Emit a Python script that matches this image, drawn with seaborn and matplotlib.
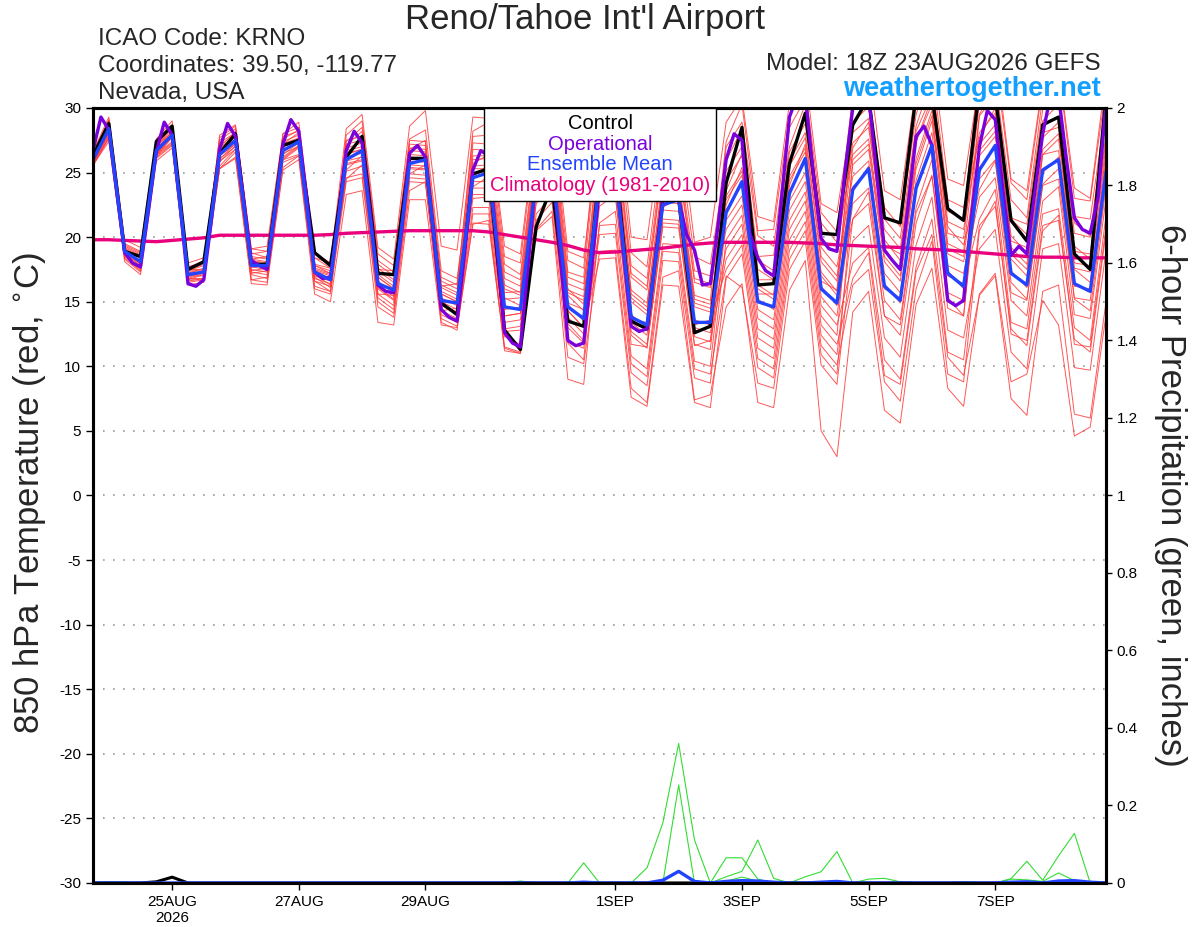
"""GEFS 16-day meteogram for Reno/Tahoe (KRNO): 850 hPa temperature spaghetti + 6-h precip."""
import matplotlib
matplotlib.use("Agg")
import numpy as np
import pandas as pd
import matplotlib.pyplot as plt
from matplotlib.lines import Line2D
import seaborn as sns

RUN_START = "2026-08-23 18:00"
HOURS_6H = list(range(0, 385, 6))
HOURS_3H = list(range(0, 385, 3))

# ---- 850 hPa temperature (degC) -------------------------------------------------
ENS_MEAN_T = [
    26.0, 28.4, 18.9, 18.1, 26.7, 27.9, 17.1, 17.3, 26.4, 27.5, 17.8, 17.8, 26.7, 27.4, 17.3, 16.7,
    26.0, 26.7, 16.4, 15.9, 25.7, 26.0, 15.1, 14.9, 24.6, 25.0, 14.6, 14.4, 24.5, 25.5, 14.6, 13.7,
    24.5, 25.0, 13.8, 13.2, 22.5, 22.9, 13.4, 13.4, 21.9, 24.3, 15.0, 14.6, 23.4, 26.1, 16.0, 14.9,
    23.7, 25.3, 16.2, 15.1, 23.8, 27.1, 17.2, 16.2, 25.2, 27.1, 17.2, 16.3, 25.2, 26.0, 16.4, 15.8,
    25.1,
]
CONTROL_T = [
    26.3, 28.8, 18.9, 18.5, 27.4, 28.6, 17.5, 18.1, 26.5, 28.0, 17.9, 17.9, 27.1, 27.5, 18.8, 17.8,
    26.2, 27.8, 17.2, 17.1, 26.1, 26.1, 14.9, 14.0, 24.9, 25.3, 12.8, 11.3, 20.8, 24.0, 13.5, 13.1,
    25.0, 26.0, 13.5, 12.9, 22.9, 23.0, 12.6, 13.1, 24.2, 28.5, 16.3, 16.4, 25.7, 29.6, 20.3, 20.2,
    28.7, 30.8, 21.5, 21.1, 31.0, 31.0, 22.2, 21.3, 31.5, 31.0, 21.3, 19.7, 28.7, 29.3, 18.7, 17.5,
    31.0,
]
# operational run is 3-hourly
OPER_T = [
    26.7, 29.3, 28.3, 23.5, 18.8, 18.0, 17.7, 22.0, 26.6, 28.9, 27.9, 22.5, 16.4, 16.2, 16.7, 21.5,
    26.8, 28.8, 27.8, 23.0, 18.2, 17.8, 17.5, 22.0, 27.2, 29.1, 28.2, 23.0, 17.3, 16.8, 16.9, 21.5,
    26.7, 28.2, 27.3, 22.0, 16.3, 15.8, 15.7, 20.5, 26.5, 27.1, 26.2, 20.5, 14.4, 13.8, 13.5, 19.0,
    25.2, 26.7, 26.3, 19.5, 12.6, 11.8, 11.5, 18.0, 25.0, 26.5, 26.0, 19.0, 12.0, 11.6, 11.8, 17.5,
    24.0, 26.5, 26.0, 19.0, 13.1, 12.7, 12.9, 18.0, 22.9, 23.2, 22.9, 20.2, 19.0, 16.3, 16.4, 21.0,
    26.0, 28.0, 27.5, 20.3, 18.4, 17.4, 17.0, 23.0, 29.3, 31.0, 31.0, 25.0, 19.9, 19.1, 18.9, 25.0,
    30.0, 31.5, 31.0, 25.0, 19.0, 18.2, 17.5, 22.5, 27.8, 28.6, 27.1, 21.0, 15.1, 14.7, 15.1, 21.5,
    27.0, 29.8, 29.1, 23.5, 18.6, 19.3, 18.7, 23.5, 28.0, 31.0, 31.0, 26.0, 21.5, 20.6, 20.3, 23.1,
    30.5,
]
CLIMO_T = [
    19.8, 19.8, 19.75, 19.7, 19.65, 19.75, 19.85, 19.95, 20.15, 20.15, 20.15, 20.15, 20.15, 20.15,
    20.15, 20.2, 20.3, 20.35, 20.4, 20.45, 20.5, 20.5, 20.5, 20.5, 20.5, 20.4, 20.2, 20.0, 19.8,
    19.6, 19.35, 19.0, 18.8, 18.85, 18.95, 19.05, 19.15, 19.3, 19.45, 19.55, 19.6, 19.6, 19.6, 19.6,
    19.6, 19.55, 19.5, 19.4, 19.35, 19.3, 19.25, 19.2, 19.1, 19.05, 19.0, 18.9, 18.8, 18.7, 18.6,
    18.5, 18.45, 18.45, 18.4, 18.4, 18.4,
]
MEMBERS_T = [
    [26.2, 28.8, 19.1, 18.5, 27.1, 28.1, 17.5, 17.5, 27.3, 28.1, 18.8, 18.4, 27.6, 28.3, 17.9, 17.6,
     27.4, 28.5, 18.2, 17.3, 27.5, 27.4, 16.9, 16.3, 27.8, 27.9, 17.9, 17.1, 27.2, 28.8, 17.3, 16.9,
     29.1, 30.2, 18.8, 17.7, 27.6, 27.4, 18.5, 17.9, 25.9, 28.4, 18.5, 18.6, 27.0, 30.3, 19.5, 18.9,
     27.3, 28.5, 19.8, 18.2, 27.4, 30.8, 20.3, 19.9, 30.4, 32.2, 22.9, 21.5, 30.9, 31.1, 21.6, 21.4, 30.2],
    [25.8, 28.0, 18.7, 17.7, 26.3, 27.7, 16.7, 17.1, 25.5, 26.8, 17.1, 16.8, 26.0, 26.4, 16.6, 15.8,
     24.3, 24.6, 14.6, 13.8, 23.6, 24.3, 13.4, 12.8, 21.1, 21.0, 11.5, 11.1, 20.6, 22.0, 10.7, 10.2,
     18.9, 19.0, 8.3, 7.2, 16.9, 17.4, 7.4, 7.8, 14.6, 16.4, 7.2, 6.8, 15.9, 18.2, 5.0, 3.0,
     14.2, 15.8, 6.6, 5.6, 14.8, 17.6, 8.3, 6.9, 15.6, 17.2, 8.8, 9.4, 15.1, 13.2, 4.6, 5.3, 14.0],
    [26.6, 29.0, 19.5, 18.9, 27.3, 28.7, 17.7, 18.1, 27.5, 28.4, 18.7, 18.9, 27.8, 28.2, 18.4, 17.6,
     26.9, 27.3, 17.4, 16.5, 26.7, 26.6, 16.1, 15.5, 24.8, 25.2, 14.4, 14.6, 24.3, 25.7, 14.8, 13.5,
     23.1, 23.2, 12.4, 11.4, 21.1, 21.0, 11.6, 12.0, 18.3, 20.2, 11.4, 10.6, 19.8, 22.0, 12.4, 10.9,
     21.4, 23.5, 13.9, 13.2, 21.9, 24.7, 15.3, 13.9, 26.3, 27.8, 18.3, 17.0, 26.4, 26.7, 17.5, 16.5, 26.2],
    [25.5, 27.7, 18.4, 17.4, 26.2, 27.2, 16.6, 16.8, 25.8, 27.1, 17.2, 17.4, 26.1, 27.0, 16.9, 16.1,
     26.4, 26.8, 16.9, 16.0, 26.2, 26.1, 15.6, 15.0, 26.8, 26.7, 16.8, 16.2, 26.3, 27.8, 16.4, 15.9,
     27.5, 28.5, 17.2, 16.2, 25.9, 25.8, 16.8, 16.4, 27.4, 30.3, 20.5, 20.6, 29.4, 31.5, 21.9, 20.4,
     31.0, 33.2, 23.6, 22.9, 31.7, 34.4, 24.5, 24.0, 32.2, 33.6, 24.2, 22.9, 31.8, 33.0, 23.0, 22.8, 31.6],
    [26.1, 28.3, 18.8, 18.2, 26.6, 28.0, 17.2, 17.2, 26.6, 27.9, 18.2, 18.0, 27.1, 27.6, 17.5, 17.1,
     27.2, 27.5, 17.6, 16.7, 26.9, 26.8, 16.3, 15.7, 25.5, 25.6, 15.2, 15.3, 25.1, 26.4, 15.5, 14.3,
     24.7, 24.8, 14.0, 13.0, 22.7, 22.6, 13.6, 13.2, 23.6, 26.5, 16.7, 16.7, 25.5, 27.7, 18.1, 16.6,
     28.1, 29.2, 20.6, 19.1, 28.2, 31.0, 21.2, 20.6, 28.1, 29.6, 20.1, 18.8, 27.7, 28.9, 18.9, 18.7, 28.0],
    [26.4, 29.0, 19.3, 18.7, 27.1, 28.5, 17.5, 17.9, 26.3, 27.2, 17.7, 17.5, 26.4, 27.3, 17.0, 16.6,
     24.5, 25.6, 15.3, 14.4, 24.6, 24.5, 14.0, 13.4, 22.3, 22.3, 12.3, 11.7, 21.8, 23.2, 11.9, 11.4,
     22.4, 23.3, 11.7, 11.5, 20.8, 20.7, 11.7, 11.3, 22.1, 24.0, 15.2, 14.4, 23.6, 25.8, 16.2, 14.7,
     25.6, 26.8, 18.1, 16.6, 25.3, 29.0, 18.7, 18.1, 23.7, 25.9, 15.7, 15.1, 24.0, 24.5, 15.2, 14.3, 23.9],
    [25.6, 27.4, 18.1, 17.1, 25.9, 26.9, 16.3, 16.5, 25.3, 26.2, 16.7, 16.5, 25.4, 26.3, 16.0, 15.6,
     25.1, 25.5, 15.6, 14.7, 24.9, 24.8, 14.3, 13.7, 24.3, 24.3, 13.9, 14.1, 23.8, 25.2, 14.3, 13.0,
     25.3, 26.2, 15.0, 14.0, 23.7, 23.6, 14.6, 14.2, 25.1, 27.0, 18.2, 17.4, 26.6, 28.8, 19.2, 17.7,
     24.7, 25.9, 17.2, 15.7, 24.4, 28.1, 17.8, 17.2, 23.1, 24.6, 15.1, 13.9, 22.8, 23.9, 14.0, 13.7, 23.0],
    [26.3, 28.5, 19.0, 18.4, 26.8, 28.2, 17.4, 17.4, 27.9, 28.7, 19.1, 19.3, 28.0, 28.9, 18.8, 18.0,
     28.4, 29.5, 19.2, 18.3, 28.6, 29.8, 19.3, 19.0, 29.3, 29.2, 19.3, 18.7, 28.8, 30.3, 18.9, 18.4,
     28.5, 28.6, 17.8, 16.8, 26.5, 26.4, 17.4, 17.0, 24.4, 26.3, 17.5, 16.7, 25.9, 28.1, 18.5, 17.0,
     23.9, 25.1, 16.4, 14.9, 23.6, 27.3, 17.0, 16.4, 21.4, 23.7, 13.4, 12.9, 21.8, 22.2, 13.0, 12.0, 21.7],
    [25.9, 28.1, 18.8, 17.8, 26.4, 27.8, 16.8, 17.2, 26.5, 27.4, 17.9, 17.7, 26.8, 27.3, 17.2, 16.8,
     25.7, 26.0, 16.1, 15.2, 25.4, 25.3, 14.8, 14.2, 23.0, 23.1, 12.7, 12.8, 22.6, 23.9, 13.0, 11.8,
     20.9, 21.0, 10.2, 9.2, 18.9, 18.8, 9.8, 9.4, 17.0, 16.1, 8.7, 8.3, 17.5, 19.7, 10.1, 8.6,
     19.7, 20.9, 12.2, 10.7, 19.4, 23.1, 12.8, 12.2, 19.1, 20.6, 11.1, 9.8, 19.1, 19.5, 9.9, 9.7, 19.0],
    [26.6, 29.3, 19.8, 19.2, 27.6, 29.0, 18.0, 18.4, 27.1, 28.0, 18.5, 18.3, 27.4, 27.9, 17.8, 17.4,
     26.2, 26.5, 16.6, 15.7, 25.9, 25.8, 15.3, 14.7, 26.0, 26.1, 15.7, 15.8, 25.6, 26.9, 16.0, 14.8,
     27.6, 27.7, 16.9, 15.9, 25.6, 25.5, 16.5, 16.1, 22.9, 24.8, 16.0, 15.2, 24.4, 26.6, 17.0, 15.5,
     21.4, 22.6, 13.9, 12.4, 21.1, 24.8, 14.5, 13.9, 25.4, 26.9, 17.4, 16.1, 25.0, 26.2, 16.2, 16.0, 25.3],
    [25.6, 27.8, 18.5, 17.5, 26.3, 27.3, 16.7, 16.7, 25.3, 26.1, 16.4, 16.3, 25.2, 26.0, 15.6, 15.0,
     23.3, 23.6, 13.4, 13.2, 22.9, 22.9, 13.2, 13.0, 21.8, 21.8, 11.4, 11.0, 21.3, 22.7, 11.8, 10.5,
     23.0, 23.9, 12.7, 11.7, 21.4, 21.3, 12.3, 11.9, 23.2, 25.1, 16.3, 15.5, 24.7, 26.9, 17.3, 15.8,
     28.9, 30.1, 21.4, 19.9, 28.6, 32.3, 22.0, 21.4, 33.0, 34.5, 24.5, 23.6, 32.0, 33.2, 23.8, 23.0, 32.5],
    [26.0, 28.6, 19.1, 18.1, 26.9, 27.9, 17.3, 17.3, 26.1, 27.0, 17.5, 17.3, 26.2, 27.1, 16.8, 16.4,
     26.7, 27.0, 17.1, 16.2, 26.4, 26.3, 15.8, 15.2, 27.3, 27.2, 17.3, 16.7, 26.8, 28.3, 16.9, 16.4,
     25.6, 26.5, 15.3, 14.3, 24.0, 23.9, 14.9, 14.5, 20.6, 22.5, 13.7, 12.9, 22.1, 24.3, 14.7, 13.2,
     18.0, 19.2, 10.5, 9.0, 17.7, 21.4, 11.1, 10.5, 20.9, 22.4, 12.9, 11.6, 20.5, 21.7, 11.7, 11.5, 20.8],
    [25.9, 28.2, 18.9, 17.9, 26.5, 27.9, 16.9, 17.3, 26.9, 28.2, 18.3, 18.5, 27.2, 28.1, 17.8, 17.2,
     27.9, 29.0, 18.7, 17.8, 27.6, 28.3, 17.4, 16.8, 25.7, 26.4, 16.0, 15.5, 25.9, 26.6, 15.7, 15.1,
     24.1, 24.2, 13.4, 12.4, 22.1, 22.0, 13.0, 12.6, 19.1, 21.0, 12.2, 11.4, 20.6, 22.8, 13.2, 11.7,
     16.8, 18.8, 9.3, 8.6, 17.3, 20.2, 10.7, 9.3, 15.5, 17.0, 7.5, 6.2, 15.8, 16.3, 6.3, 6.0, 15.0],
    [26.3, 29.1, 19.4, 18.8, 27.2, 28.6, 17.6, 18.0, 26.7, 27.6, 18.1, 17.9, 27.0, 27.5, 17.4, 17.0,
     25.6, 25.9, 16.0, 15.1, 25.3, 25.2, 14.7, 14.1, 23.8, 23.8, 13.4, 13.6, 23.3, 24.7, 13.8, 12.5,
     26.2, 27.1, 15.9, 14.9, 24.6, 24.5, 15.5, 15.1, 27.0, 28.9, 20.1, 19.3, 28.5, 30.7, 21.1, 19.6,
     26.4, 27.6, 18.9, 17.4, 26.1, 29.8, 19.5, 18.9, 29.4, 30.9, 21.4, 20.2, 29.0, 30.3, 20.3, 20.0, 29.3],
    [25.7, 27.6, 18.3, 17.3, 26.1, 27.1, 16.5, 16.7, 26.0, 27.3, 17.4, 17.6, 26.5, 27.0, 17.1, 16.3,
     27.5, 27.8, 17.9, 17.0, 27.2, 27.1, 16.6, 16.0, 28.2, 28.9, 18.5, 18.0, 28.4, 29.1, 18.2, 17.6,
     30.7, 31.6, 20.0, 19.8, 28.7, 29.5, 19.6, 20.0, 28.9, 30.8, 21.6, 21.2, 30.4, 32.6, 22.6, 21.9,
     29.8, 31.0, 22.3, 20.8, 29.5, 33.2, 22.9, 22.3, 27.7, 30.0, 19.7, 19.2, 28.1, 28.5, 19.3, 18.3, 27.6],
    [26.2, 28.9, 19.2, 18.6, 27.0, 28.4, 17.4, 17.8, 27.7, 28.6, 19.1, 18.9, 28.0, 28.5, 18.4, 18.0,
     26.5, 26.8, 16.9, 16.0, 26.2, 26.1, 15.6, 15.0, 23.3, 23.3, 12.9, 13.1, 22.8, 24.2, 13.3, 12.0,
     20.2, 20.3, 9.5, 8.5, 18.2, 18.1, 9.1, 8.7, 19.8, 21.7, 12.9, 12.1, 21.3, 23.5, 13.9, 12.4,
     26.0, 27.2, 18.5, 17.0, 25.7, 29.4, 19.1, 18.5, 26.7, 28.2, 18.7, 17.5, 26.4, 27.6, 17.6, 17.3, 26.6],
    [25.7, 27.9, 18.6, 17.6, 26.4, 27.4, 16.8, 16.8, 26.3, 27.6, 17.7, 17.9, 26.6, 27.5, 17.4, 16.6,
     24.6, 24.9, 15.0, 14.1, 24.3, 24.2, 13.7, 13.1, 21.0, 21.3, 11.2, 11.0, 20.5, 21.6, 9.0, 8.6,
     21.1, 22.0, 10.8, 9.8, 19.5, 19.4, 10.4, 10.0, 21.3, 23.2, 14.4, 13.6, 22.8, 25.0, 15.4, 13.9,
     22.6, 23.8, 15.1, 13.6, 22.3, 26.0, 15.7, 15.1, 27.2, 28.7, 19.2, 17.9, 26.8, 28.0, 18.0, 17.8, 27.1],
    [26.0, 28.3, 19.0, 18.0, 26.6, 28.0, 17.0, 17.4, 25.3, 26.6, 16.7, 16.9, 25.8, 26.3, 16.2, 15.8,
     25.9, 26.2, 16.3, 15.4, 25.6, 25.5, 15.0, 14.4, 25.3, 25.3, 15.3, 14.7, 24.8, 26.2, 14.9, 14.4,
     24.3, 25.2, 13.6, 13.4, 22.3, 23.1, 13.2, 13.6, 17.5, 19.4, 10.6, 9.8, 19.0, 21.2, 11.6, 10.1,
     16.3, 17.5, 8.8, 7.3, 16.0, 19.7, 9.4, 8.8, 20.5, 22.8, 12.5, 12.0, 20.9, 21.3, 12.1, 11.1, 20.4],
    [26.3, 28.7, 19.0, 18.4, 26.8, 28.2, 17.2, 17.6, 26.9, 27.8, 18.3, 18.1, 27.2, 27.7, 17.6, 17.2,
     27.1, 28.2, 17.5, 17.4, 26.8, 27.5, 16.2, 16.4, 23.9, 24.7, 13.9, 14.1, 24.2, 24.8, 14.3, 13.0,
     18.3, 18.4, 7.6, 6.9, 16.3, 16.2, 7.2, 6.8, 16.8, 18.7, 9.9, 9.1, 18.3, 20.5, 10.9, 9.4,
     23.5, 25.5, 16.0, 15.3, 24.0, 26.9, 17.4, 16.0, 29.5, 31.8, 21.5, 21.0, 29.9, 30.3, 21.1, 20.1, 29.8],
    [25.8, 28.1, 18.6, 18.0, 26.4, 27.8, 17.0, 17.0, 25.9, 26.8, 17.3, 17.1, 26.0, 26.9, 16.6, 16.2,
     25.2, 26.3, 15.6, 15.5, 24.9, 25.6, 14.3, 14.5, 26.3, 26.3, 16.3, 15.7, 25.8, 27.2, 15.9, 15.4,
     25.9, 26.8, 15.6, 14.6, 24.3, 24.2, 15.2, 14.8, 22.5, 25.4, 15.6, 15.6, 24.0, 27.2, 16.6, 15.9,
     26.9, 28.9, 19.4, 18.7, 27.4, 30.3, 20.8, 19.4, 24.5, 26.0, 16.5, 15.2, 24.1, 25.3, 15.3, 15.1, 24.4],
]

# ---- 6-hour precipitation (inches), keyed by forecast hour; missing hours = 0 ----
ENS_MEAN_P = {186: 0.002, 216: 0.007, 222: 0.03, 228: 0.004, 240: 0.004, 246: 0.006, 252: 0.005,
              258: 0.002, 276: 0.002, 282: 0.004, 348: 0.002, 354: 0.003, 366: 0.005, 372: 0.006,
              378: 0.002}
CONTROL_P = {24: 0.003, 30: 0.015}
MEMBERS_P = [
    {210: 0.039, 216: 0.155, 222: 0.36, 228: 0.111, 240: 0.065, 246: 0.065, 252: 0.01},
    {222: 0.253},
    {240: 0.016, 246: 0.03, 252: 0.111, 258: 0.012, 270: 0.016, 276: 0.029, 282: 0.081},
    {186: 0.052},
    {6: 0.003, 12: 0.002, 162: 0.005},
    {294: 0.01, 300: 0.012, 306: 0.003},
    {348: 0.011, 354: 0.056, 360: 0.007, 366: 0.07, 372: 0.128},
    {348: 0.01, 354: 0.008, 360: 0.004, 366: 0.026, 372: 0.006},
    {240: 0.005, 246: 0.015, 252: 0.005},
    {330: 0.003},
]

DATE_TICKS = ["2026-08-25", "2026-08-27", "2026-08-29", "2026-09-01",
              "2026-09-03", "2026-09-05", "2026-09-07"]
DATE_LABELS = ["25AUG\n2026", "27AUG", "29AUG", "1SEP", "3SEP", "5SEP", "7SEP"]

C_CONTROL = "#000000"
C_OPER = "#7a00dc"
C_MEAN = "#2244ff"
C_CLIMO = "#e8007c"
C_MEMBER = "#ff3a3a"
C_PRECIP = "#33dd33"


def _hours_to_time(hours):
    return pd.Timestamp(RUN_START) + pd.to_timedelta(hours, unit="h")


def _long(series_list, value_name):
    rows = []
    for k, series in enumerate(series_list):
        for h, v in zip(HOURS_6H, series):
            rows.append({"time": _hours_to_time(h), value_name: v, "member": k})
    return pd.DataFrame(rows)


def _sparse(d):
    return [d.get(h, 0.0) for h in HOURS_6H]


def main():
    sns.set_theme(style="white")
    plt.rcParams["font.family"] = ["Liberation Sans", "DejaVu Sans"]

    t6 = _hours_to_time(HOURS_6H)
    t3 = _hours_to_time(HOURS_3H)

    fig = plt.figure(figsize=(12, 9.27), dpi=100)
    ax = fig.add_axes([0.0775, 0.0475, 0.8442, 0.836])

    members = _long(MEMBERS_T, "temp")
    sns.lineplot(data=members, x="time", y="temp", units="member", estimator=None,
                 color=C_MEMBER, linewidth=0.7, alpha=0.85, ax=ax, legend=False)
    sns.lineplot(x=t6, y=CLIMO_T, color=C_CLIMO, linewidth=2.4, ax=ax)
    sns.lineplot(x=t6, y=CONTROL_T, color=C_CONTROL, linewidth=2.4, ax=ax)
    sns.lineplot(x=t3, y=OPER_T, color=C_OPER, linewidth=2.4, ax=ax)
    sns.lineplot(x=t6, y=ENS_MEAN_T, color=C_MEAN, linewidth=2.4, ax=ax)

    ax.set_xlim(t6[0], t6[-1])
    ax.set_ylim(-30, 30)
    ax.set_yticks(range(-30, 31, 5))
    ax.set_yticklabels([str(v) for v in range(-30, 31, 5)])
    ax.yaxis.grid(True, linestyle=(0, (1, 5)), color="#9a9a9a", linewidth=1.2)
    ax.xaxis.grid(False)
    ax.set_xticks(pd.to_datetime(DATE_TICKS))
    ax.set_xticklabels(DATE_LABELS)
    ax.set_xlabel("")
    ax.set_ylabel("")
    ax.tick_params(axis="both", direction="out", length=5, width=1, labelsize=11,
                   colors="black", left=True, bottom=True)

    ax2 = ax.twinx()
    precip = _long([_sparse(d) for d in MEMBERS_P], "precip")
    sns.lineplot(data=precip, x="time", y="precip", units="member", estimator=None,
                 color=C_PRECIP, linewidth=0.8, ax=ax2, legend=False)
    sns.lineplot(x=t6, y=_sparse(CONTROL_P), color=C_CONTROL, linewidth=2.2, ax=ax2)
    sns.lineplot(x=t6, y=_sparse(ENS_MEAN_P), color=C_MEAN, linewidth=2.4, ax=ax2)
    ax2.set_ylim(0, 2)
    ticks2 = np.round(np.arange(0, 2.01, 0.2), 1)
    ax2.set_yticks(ticks2)
    ax2.set_yticklabels([f"{v:g}" for v in ticks2])
    ax2.set_ylabel("")
    ax2.tick_params(axis="y", direction="out", length=4, width=1, labelsize=11,
                    colors="black", right=True)
    ax2.set_xlim(t6[0], t6[-1])

    for a in (ax, ax2):
        for sp in a.spines.values():
            sp.set_color("black")
            sp.set_linewidth(2.2)
            sp.set_visible(True)

    handles = [Line2D([], [], linestyle="none") for _ in range(4)]
    names = ["Control", "Operational", "Ensemble Mean", "Climatology (1981-2010)"]
    leg = ax2.legend(handles, names, loc="upper center", bbox_to_anchor=(0.5005, 1.0),
                     borderaxespad=0, handlelength=0, handletextpad=0, fontsize=14.5,
                     frameon=True, fancybox=False, framealpha=1, edgecolor="black",
                     labelspacing=0.08, borderpad=0.3, alignment="center")
    leg.get_frame().set_linewidth(1.0)
    for txt, col in zip(leg.get_texts(), [C_CONTROL, C_OPER, C_MEAN, C_CLIMO]):
        txt.set_color(col)
    # centre each row inside the box (entries are text only)
    for column in leg._legend_handle_box.get_children():
        column.align = "center"
    leg.set_zorder(10)

    fig.text(585 / 1200, 1 - 19 / 927, "Reno/Tahoe Int'l Airport", ha="center", va="center",
             fontsize=25)
    fig.text(98 / 1200, 1 - 39 / 927, "ICAO Code: KRNO", ha="left", va="center", fontsize=17.5)
    fig.text(98 / 1200, 1 - 66 / 927, "Coordinates: 39.50, -119.77", ha="left", va="center",
             fontsize=17.5)
    fig.text(98 / 1200, 1 - 93 / 927, "Nevada, USA", ha="left", va="center", fontsize=17.5)
    fig.text(1101 / 1200, 1 - 64 / 927, "Model: 18Z 23AUG2026 GEFS", ha="right", va="center",
             fontsize=17.5)
    fig.text(1101 / 1200, 1 - 89 / 927, "weathertogether.net", ha="right", va="center",
             fontsize=19.5, fontweight="bold", color="#139fff")
    fig.text(30 / 1200, 1 - 493 / 927, r"850 hPa Temperature (red, $^{\circ}$C)", rotation=90,
             ha="center", va="center", fontsize=25)
    fig.text(1170 / 1200, 1 - 495 / 927, "6-hour Precipitation (green, inches)", rotation=270,
             ha="center", va="center", fontsize=25)

    fig.savefig("out.png", dpi=100)
    plt.close(fig)


if __name__ == "__main__":
    main()
